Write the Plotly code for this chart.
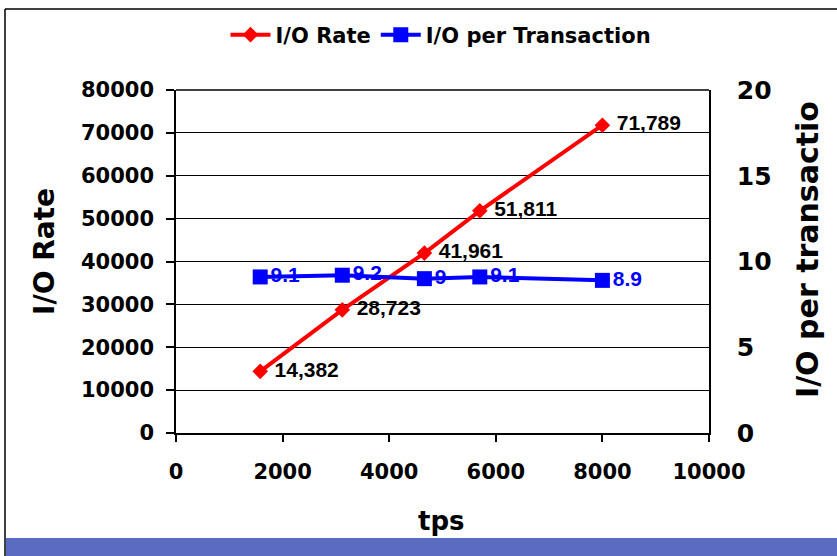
import plotly.graph_objects as go

# ---- data ----
tps = [1580, 3120, 4660, 5700, 8000]
io_rate = [14382, 28723, 41961, 51811, 71789]
io_per_txn = [9.1, 9.2, 9.0, 9.1, 8.9]
io_rate_labels = ["14,382", "28,723", "41,961", "51,811", "71,789"]
io_per_txn_labels = ["9.1", "9.2", "9", "9.1", "8.9"]
x_tickvals = [0, 2000, 4000, 6000, 8000, 10000]
x_ticktext = ["0", "2000", "4000", "6000", "8000", "10000"]
y_tickvals = [0, 10000, 20000, 30000, 40000, 50000, 60000, 70000, 80000]
y_ticktext = ["0", "10000", "20000", "30000", "40000", "50000", "60000", "70000", "80000"]
y2_tickvals = [0, 5, 10, 15, 20]
y2_ticktext = ["0", "5", "10", "15", "20"]

W, H = 837, 556
L, R, T, B = 176, 709, 90, 433  # plot area in pixels


def px(x):
    return (x - L) / (R - L)


def py(y):
    return (B - y) / (B - T)


WIDE = "DejaVu Sans"
ARIAL = "Liberation Sans"

fig = go.Figure()
fig.add_trace(go.Scatter(
    x=tps, y=io_rate, name="I/O Rate", mode="lines+markers+text",
    line=dict(color="#ff0000", width=4),
    marker=dict(symbol="diamond", size=12, color="#ff0000"),
    text=io_rate_labels, texttemplate=" %{text}", textposition="middle right",
    textfont=dict(family=ARIAL, size=21, color="black", weight="bold"),
    yaxis="y", cliponaxis=False,
))
fig.add_trace(go.Scatter(
    x=tps, y=io_per_txn, name="I/O per Transaction", mode="lines+markers+text",
    line=dict(color="#0000ff", width=4),
    marker=dict(symbol="square", size=15, color="#0000ff"),
    text=io_per_txn_labels, textposition="middle right",
    textfont=dict(family=ARIAL, size=21, color="#0000ff", weight="bold"),
    yaxis="y2", cliponaxis=False,
))

fig.update_layout(
    width=W, height=H,
    margin=dict(l=L, r=W - R, t=T, b=H - B, pad=0, autoexpand=False),
    paper_bgcolor="white", plot_bgcolor="white",
    showlegend=True,
    legend=dict(orientation="h", x=px(441), xanchor="center", y=py(35), yanchor="middle",
                font=dict(family=WIDE, size=21, color="black", weight="bold"),
                bgcolor="rgba(0,0,0,0)", itemwidth=40, tracegroupgap=0),
    xaxis=dict(range=[0, 10000], tickvals=x_tickvals, ticktext=x_ticktext,
               showgrid=False, zeroline=False,
               showline=True, linecolor="black", linewidth=1.5, mirror=False,
               ticks="outside", ticklen=7, tickcolor="black", tickwidth=1.5,
               ticklabelstandoff=12,
               tickfont=dict(family=WIDE, size=21, color="black", weight="bold")),
    yaxis=dict(range=[0, 80000], tickvals=y_tickvals, ticktext=y_ticktext,
               showgrid=True, gridcolor="black",
               gridwidth=1.2, zeroline=False, showline=True, linecolor="black", linewidth=1.5,
               ticks="outside", ticklen=8, tickcolor="black", tickwidth=1.5,
               ticklabelstandoff=8,
               tickfont=dict(family=WIDE, size=21, color="black", weight="bold")),
    yaxis2=dict(range=[0, 20], tickvals=y2_tickvals, ticktext=y2_ticktext,
                overlaying="y", side="right",
                showgrid=False, zeroline=False, showline=True, linecolor="black", linewidth=1.5,
                ticks="", ticklabelstandoff=21,
                tickfont=dict(family=WIDE, size=25, color="black", weight="bold")),
    annotations=[
        dict(text="I/O Rate", xref="paper", yref="paper", x=px(45), y=py(252),
             showarrow=False, textangle=-90, xanchor="center", yanchor="middle",
             font=dict(family=WIDE, size=28, color="black", weight="bold")),
        dict(text="I/O per transactio", xref="paper", yref="paper", x=px(807), y=py(250),
             showarrow=False, textangle=-90, xanchor="center", yanchor="middle",
             font=dict(family=WIDE, size=30, color="black", weight="bold")),
        dict(text="tps", xref="paper", yref="paper", x=px(441), y=py(521),
             showarrow=False, xanchor="center", yanchor="middle",
             font=dict(family=WIDE, size=26, color="black", weight="bold")),
    ],
    shapes=[
        dict(type="rect", xref="paper", yref="paper", x0=px(6), x1=px(W + 5),
             y0=py(H + 5), y1=py(538), fillcolor="#5b6bc2", line=dict(width=0), layer="below"),
        dict(type="line", xref="paper", yref="paper", x0=px(5), x1=px(5),
             y0=py(9), y1=py(H + 5), line=dict(color="black", width=1.5)),
        dict(type="line", xref="paper", yref="paper", x0=px(5), x1=px(W + 5),
             y0=py(9), y1=py(9), line=dict(color="black", width=1.5)),
        dict(type="line", xref="paper", yref="paper", x0=0, x1=1,
             y0=1, y1=1, line=dict(color="black", width=1.5)),
    ],
)

fig.write_html(
    "out.html",
    config={"displayModeBar": False},
    post_script="document.body.style.margin='0';document.body.style.overflow='hidden';",
)
